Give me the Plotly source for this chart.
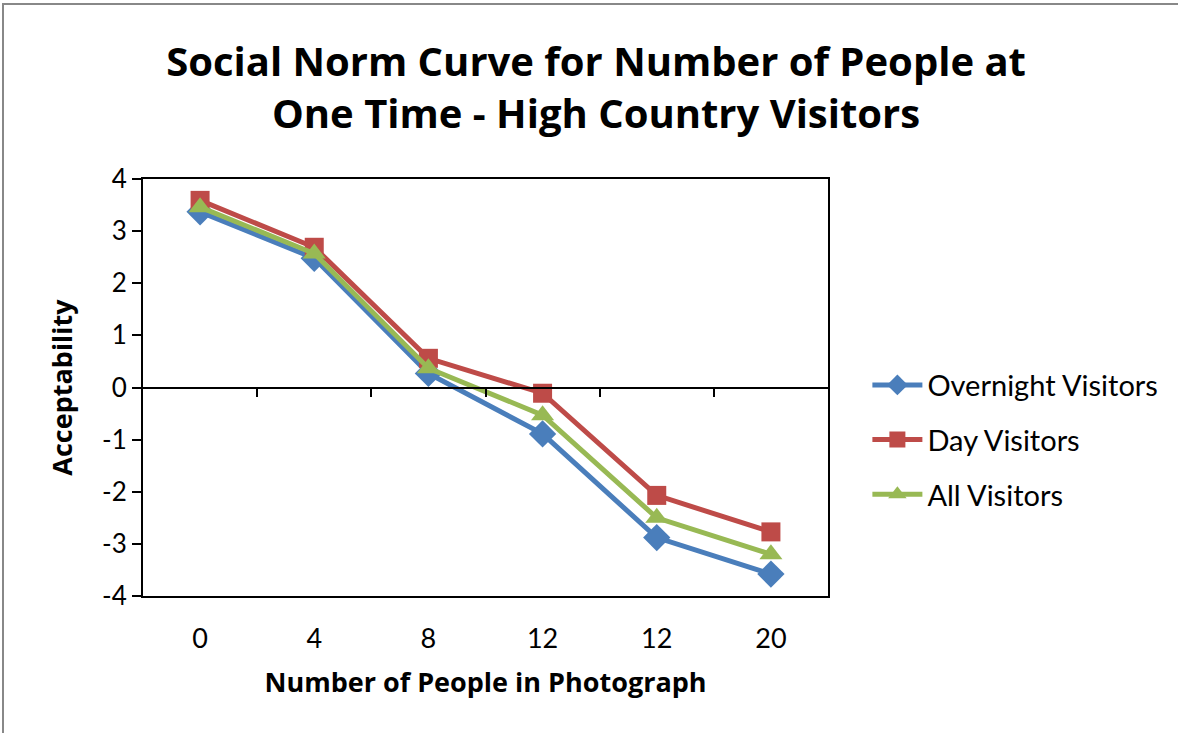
import plotly.graph_objects as go

tick_labels = ["0", "4", "8", "12", "12", "20"]
y_ticks = [-4, -3, -2, -1, 0, 1, 2, 3, 4]
y_tick_labels = ["-4", "-3", "-2", "-1", "0", "1", "2", "3", "4"]
overnight = [3.37, 2.48, 0.27, -0.89, -2.88, -3.58]
day = [3.59, 2.69, 0.56, -0.11, -2.07, -2.77]
all_visitors = [3.46, 2.57, 0.37, -0.53, -2.50, -3.20]

x_pos = list(range(len(tick_labels)))
FONT = "Lato"
BOLD = "Open Sans"

series = [
    ("Overnight Visitors", overnight, "#4A7EBB", "diamond", 21),
    ("Day Visitors", day, "#BE4B48", "square", 19),
    ("All Visitors", all_visitors, "#98B954", "triangle-up", 20),
]

fig = go.Figure()
for i, (name, vals, color, sym, size) in enumerate(series):
    fig.add_trace(go.Scatter(
        x=x_pos, y=vals, name=name, mode="lines+markers",
        line=dict(color=color, width=5),
        marker=dict(symbol=sym, size=size, color=color),
        legendgroup=f"g{i}",
    ))

# invisible trace to carry the zero-line axis
fig.add_trace(go.Scatter(x=[x_pos[0]], y=[0], xaxis="x2", yaxis="y",
                         mode="markers", marker=dict(opacity=0),
                         showlegend=False, hoverinfo="skip"))

fig.update_layout(
    width=1178, height=733,
    margin=dict(l=143, r=350, t=179, b=137),
    paper_bgcolor="white", plot_bgcolor="white",
    font=dict(family=FONT, color="black", size=26),
    title=dict(
        text="<b>Social Norm Curve for Number of People at<br>One Time - High Country Visitors</b>",
        x=0.506, xanchor="center", xref="container",
        y=1 - 76 / 733, yanchor="middle", yref="container",
        font=dict(family=BOLD, size=40, color="black"),
    ),
    xaxis=dict(
        range=[-0.5, 5.5], tickvals=x_pos, ticktext=tick_labels,
        showgrid=False, zeroline=False, showline=True, linecolor="black",
        linewidth=1.5, mirror=True, ticks="", ticklabelstandoff=18,
        tickfont=dict(size=27),
        title=dict(text="<b>Number of People in Photograph</b>",
                   font=dict(family=BOLD, size=27), standoff=20),
    ),
    xaxis2=dict(
        overlaying="x", anchor="free", position=0.5, side="bottom",
        range=[-0.5, 5.5], tickvals=[p + 0.5 for p in x_pos[:-1]],
        ticks="outside", ticklen=9, tickwidth=1.5, tickcolor="black",
        showticklabels=False, showline=True, linecolor="black",
        linewidth=1.5, showgrid=False, zeroline=False,
    ),
    yaxis=dict(
        range=[-4, 4], tickvals=y_ticks, ticktext=y_tick_labels,
        showgrid=False, zeroline=False,
        showline=True, linecolor="black", linewidth=2, mirror=True,
        ticks="outside", ticklen=9, tickwidth=1.5, tickcolor="black",
        tickfont=dict(size=26),
        title=dict(text="<b>Acceptability</b>", font=dict(family=BOLD, size=27), standoff=22),
    ),
    legend=dict(
        x=1.0575, xanchor="left", y=0.374, yanchor="middle",
        font=dict(size=29), tracegroupgap=14, itemwidth=50,
        bgcolor="rgba(0,0,0,0)",
    ),
    showlegend=True,
    shapes=[dict(type="rect", xref="paper", yref="paper",
                 x0=(3 - 143) / 685, x1=1.6, y0=-0.5,
                 y1=1 + (179 - 4) / 417,
                 line=dict(color="#888888", width=2), fillcolor="rgba(0,0,0,0)",
                 layer="below")],
)

fig.write_html("out.html", config={"displayModeBar": False},
               post_script="document.body.style.margin='0';")
